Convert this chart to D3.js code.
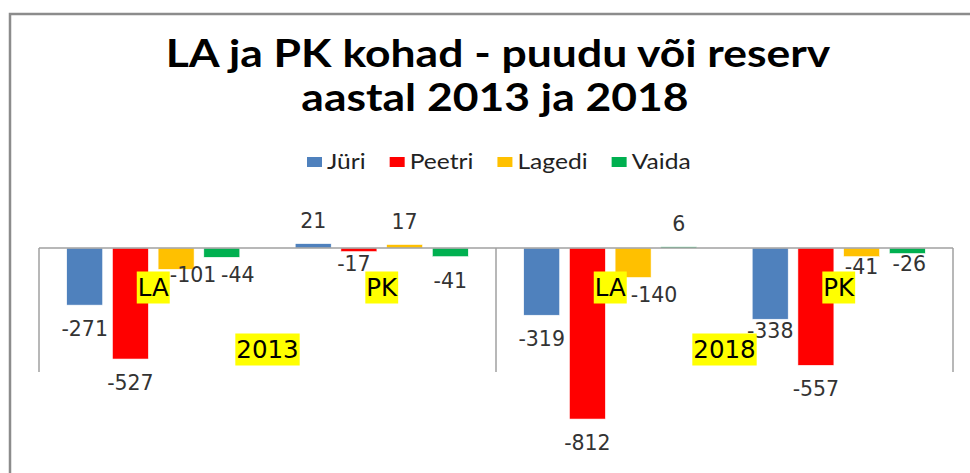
<!DOCTYPE html>
<html>
<head>
<meta charset="utf-8">
<script src="https://cdn.jsdelivr.net/npm/d3@7"></script>
<style>
  body { margin: 0; background: #fff; }
  svg { display: block; }
</style>
</head>
<body>
<div id="chart"></div>
<script>
// data
var years = ["2013", "2018"];
var types = ["LA", "PK"];
var series = ["Jüri", "Peetri", "Lagedi", "Vaida"];
var colors = ["#4F81BD", "#FF0000", "#FFC000", "#00B050"];

// one value per category: 2013 LA, 2013 PK, 2018 LA, 2018 PK
var jyri   = [-271,  21, -319, -338];
var peetri = [-527, -17, -812, -557];
var lagedi = [-101,  17, -140,  -41];
var vaida  = [ -44, -41,    6,  -26];

// labels that were dragged by hand in the original (dx, dy)
var labelNudge = {
  "0-2": [17, -18], "0-3": [16, -6],
  "1-1": [-5, -12],
  "2-2": [21, -7],
  "3-0": [0, -12], "3-2": [0, -14], "3-3": [2, -14]
};

var width = 970, height = 473;
var cats = [];
years.forEach(function(y) { types.forEach(function(t) { cats.push(y + " " + t); }); });
var values = [jyri, peetri, lagedi, vaida];

var svg = d3.select("#chart").append("svg")
  .attr("width", width)
  .attr("height", height);

// outer frame (right and bottom edge fall outside the picture)
svg.append("rect")
  .attr("x", 10).attr("y", 14)
  .attr("width", 980).attr("height", 480)
  .style("fill", "#fff")
  .style("stroke", "#8c8c8c")
  .style("stroke-width", 2.5);

// title - the original font is a bit wider, so stretch it sideways
function titleLine(txt, cx, by) {
  svg.append("text")
    .attr("transform", "translate(" + cx + "," + by + ") scale(1.17,1)")
    .attr("text-anchor", "middle")
    .style("font-family", "Lato, 'Open Sans', sans-serif")
    .style("font-weight", "bold")
    .style("font-size", "38px")
    .style("fill", "#000")
    .text(txt);
}
titleLine("LA ja PK kohad - puudu või reserv", 498, 67);
titleLine("aastal 2013 ja 2018", 495, 111);

// legend
var legendX = 307, sx = 1.12;
series.forEach(function(s, i) {
  var g = svg.append("g").attr("transform", "translate(" + legendX + ",0)");
  g.append("rect")
    .attr("x", 0).attr("y", 157)
    .attr("width", 15).attr("height", 10)
    .style("fill", colors[i]);
  var t = g.append("text")
    .attr("transform", "translate(20,169) scale(" + sx + ",1)")
    .style("font-family", "Lato, sans-serif")
    .style("font-size", "22px")
    .style("fill", "#222")
    .text(s);
  legendX += 20 + t.node().getComputedTextLength() * sx + 24;
});

// scales
var x0 = d3.scaleBand()
  .domain(cats)
  .range([39, 953])
  .paddingInner(0)
  .paddingOuter(0);

var x1 = d3.scaleBand()
  .domain(series)
  .range([0, x0.bandwidth()])
  .paddingInner(0.212)
  .paddingOuter(0.606);

var y = d3.scaleLinear()
  .domain([100, -900])
  .range([227, 437.6]);

// bars
var groups = svg.selectAll("g.cat")
  .data(cats)
  .enter()
  .append("g")
  .attr("class", "cat")
  .attr("transform", function(d) { return "translate(" + x0(d) + ",0)"; });

groups.each(function(c, ci) {
  var g = d3.select(this);
  var rows = series.map(function(s, si) { return { s: s, si: si, v: values[si][ci] }; });

  g.selectAll("rect")
    .data(rows)
    .enter()
    .append("rect")
    .attr("x", function(d) { return x1(d.s); })
    .attr("y", function(d) { return Math.min(y(d.v), y(0)); })
    .attr("width", x1.bandwidth())
    .attr("height", function(d) { return Math.abs(y(d.v) - y(0)); })
    .style("fill", function(d) { return colors[d.si]; })
    .style("stroke", "#fff")
    .style("stroke-width", 0.6);

  g.selectAll("text.val")
    .data(rows)
    .enter()
    .append("text")
    .attr("class", "val")
    .attr("text-anchor", "middle")
    .attr("x", function(d) {
      var n = labelNudge[ci + "-" + d.si] || [0, 0];
      return x1(d.s) + x1.bandwidth() / 2 + n[0];
    })
    .attr("y", function(d) {
      var n = labelNudge[ci + "-" + d.si] || [0, 0];
      return (d.v < 0 ? y(d.v) + 31 : y(d.v) - 15.5) + n[1];
    })
    .style("font-family", "'DejaVu Sans', Verdana, sans-serif")
    .style("font-size", "20.5px")
    .style("fill", "#333")
    .text(function(d) { return d.v; });
});

// category axis
var axis = svg.append("g").style("stroke", "#a0a0a0").style("stroke-width", 1.5);
axis.append("line")
  .attr("x1", 39).attr("x2", 953)
  .attr("y1", y(0)).attr("y2", y(0));
[x0(cats[0]), x0(cats[2]), x0(cats[3]) + x0.bandwidth()].forEach(function(px) {
  axis.append("line")
    .attr("x1", px).attr("x2", px)
    .attr("y1", y(0)).attr("y2", 372);
});

// yellow highlighted axis labels
function yellowLabel(txt, cx, cy) {
  var g = svg.append("g");
  var r = g.append("rect").style("fill", "#FFFF00");
  var t = g.append("text")
    .attr("x", cx).attr("y", cy + 8.5)
    .attr("text-anchor", "middle")
    .style("font-family", "'DejaVu Sans', Verdana, sans-serif")
    .style("font-size", "24.5px")
    .style("fill", "#000")
    .text(txt);
  var w = t.node().getComputedTextLength();
  r.attr("x", cx - w / 2 - 1).attr("y", cy - 16)
    .attr("width", w + 2).attr("height", 32);
}

cats.forEach(function(c, ci) {
  yellowLabel(types[ci % 2], x0(c) + x0.bandwidth() / 2, 287.5);
});
years.forEach(function(yr, yi) {
  var a = x0(cats[yi * 2]), b = x0(cats[yi * 2 + 1]) + x0.bandwidth();
  yellowLabel(yr, (a + b) / 2, 349.5);
});
</script>
</body>
</html>
